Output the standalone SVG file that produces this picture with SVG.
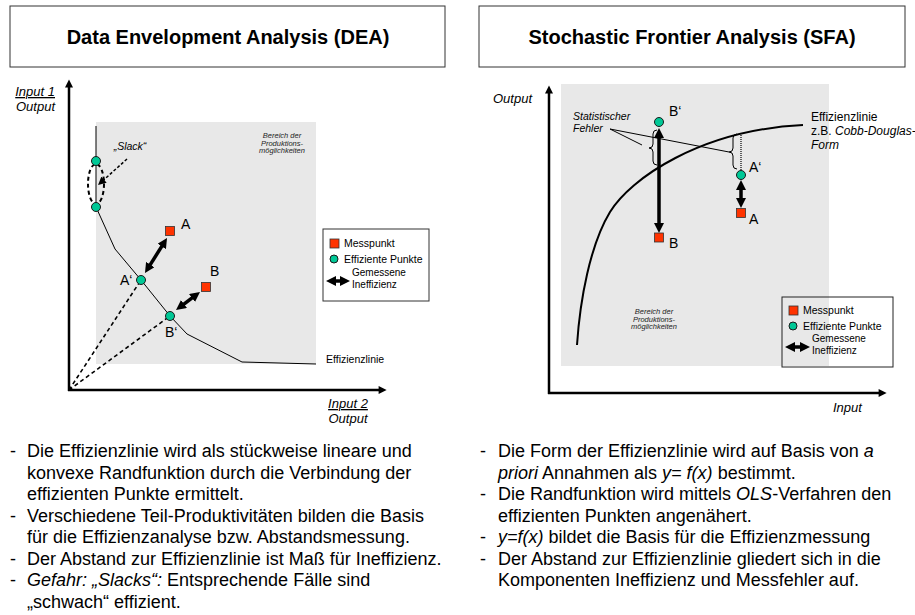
<svg xmlns="http://www.w3.org/2000/svg" width="915" height="615" viewBox="0 0 915 615">
<style>
  text { font-family: "Liberation Sans", Arial, sans-serif; fill: #000; }
  .title { font-size: 20px; font-weight: bold; text-anchor: middle; }
  .tbox { fill: #fff; stroke: #333; stroke-width: 1; }
  .area { fill: #e8e8e8; }
  .axis { stroke: #000; stroke-width: 2.5; fill: none; }
  .ax-lbl { font-size: 13px; font-style: italic; }
  .ul { text-decoration: underline; }
  .small-it { font-size: 7.5px; font-style: italic; text-anchor: middle; fill: #222; }
  .lbl { font-size: 14px; }
  .leg { font-size: 10.5px; }
  .leg2 { font-size: 10px; }
  .note { font-size: 10.5px; }
  .note-it { font-size: 10.5px; font-style: italic; }
  .note12 { font-size: 12px; }
  .pt-m { fill: #ff3300; stroke: #333; stroke-width: 0.8; }
  .pt-e { fill: #00c896; stroke: #1a1a1a; stroke-width: 1; }
  .frontier { stroke: #000; stroke-width: 1; fill: none; }
  .curve { stroke: #000; stroke-width: 2; fill: none; }
  .ray { stroke: #000; stroke-width: 1.6; stroke-dasharray: 4 3; fill: none; }
  .dbl { stroke: #000; stroke-width: 3.5; fill: none; marker-start: url(#head); marker-end: url(#head); }
  .thin { stroke: #000; stroke-width: 1; fill: none; }
  .body { font-size: 18px; }
  .it { font-style: italic; }
</style>
<defs>
  <marker id="head" viewBox="0 0 10 10" refX="3" refY="5" markerWidth="10" markerHeight="10" markerUnits="userSpaceOnUse" orient="auto-start-reverse">
    <path d="M0,0 L10,5 L0,10 z" fill="#000"/>
  </marker>
  <marker id="axh" viewBox="0 0 10 10" refX="3" refY="5" markerWidth="9" markerHeight="8" markerUnits="userSpaceOnUse" orient="auto">
    <path d="M0,0 L10,5 L0,10 z" fill="#000"/>
  </marker>
  <marker id="sh" viewBox="0 0 10 10" refX="2.5" refY="5" markerWidth="8" markerHeight="8" markerUnits="userSpaceOnUse" orient="auto">
    <path d="M0,0 L10,5 L0,10 z" fill="#000"/>
  </marker>
</defs>

<!-- Titles -->
<g id="title-dea">
  <rect class="tbox" x="10" y="6" width="435" height="61"/>
  <text class="title" x="228" y="44">Data Envelopment Analysis (DEA)</text>
</g>
<g id="title-sfa">
  <rect class="tbox" x="479" y="6" width="426" height="61"/>
  <text class="title" x="692" y="44">Stochastic Frontier Analysis (SFA)</text>
</g>

<!-- ================= DEA chart ================= -->
<rect class="area" x="96" y="122" width="220" height="242"/>
<g id="dea-axes">
  <line class="axis" x1="69" y1="391" x2="69" y2="85" marker-end="url(#axh)"/>
  <line class="axis" x1="68" y1="390" x2="381" y2="390" marker-end="url(#axh)"/>
  <text class="ax-lbl ul" x="55" y="96" text-anchor="end">Input 1</text>
  <text class="ax-lbl" x="55" y="111" text-anchor="end">Output</text>
  <text class="ax-lbl ul" x="348" y="408" text-anchor="middle">Input 2</text>
  <text class="ax-lbl" x="348" y="423" text-anchor="middle">Output</text>
</g>
<g id="dea-area-label">
  <text class="small-it" x="282" y="138">Bereich der</text>
  <text class="small-it" x="282" y="145.5">Produktions-</text>
  <text class="small-it" x="282" y="153">möglichkeiten</text>
</g>
<g id="dea-frontier">
  <path class="frontier" d="M96,126 L96,207 L115,249 L141,280 L170,316 L187,334 L242,362 L316,364"/>
  <text class="note" x="326" y="363">Effizienzlinie</text>
</g>
<g id="dea-connectors">
  <line class="ray" x1="69" y1="390" x2="141" y2="280"/>
  <line class="ray" x1="69" y1="390" x2="170" y2="316"/>
  <ellipse cx="96" cy="184" rx="8" ry="20" fill="none" stroke="#000" stroke-width="2" stroke-dasharray="4 3"/>
  <line x1="127" y1="159" x2="102.5" y2="181" stroke="#000" stroke-width="1.5" stroke-dasharray="3 2" marker-end="url(#sh)"/>
  <line class="dbl" x1="148.7" y1="267.1" x2="163.3" y2="243.9"/>
  <line class="dbl" x1="181.6" y1="305.8" x2="194.4" y2="296.2"/>
</g>
<g id="dea-slack">
  <text class="note-it" x="130" y="150" text-anchor="middle">„Slack“</text>
</g>
<g id="dea-eff-1"><circle class="pt-e" cx="96" cy="161" r="4.5"/></g>
<g id="dea-eff-2"><circle class="pt-e" cx="96" cy="207" r="4.5"/></g>
<g id="dea-A">
  <rect class="pt-m" x="165.5" y="226.5" width="9" height="9"/>
  <text class="lbl" x="181" y="229">A</text>
</g>
<g id="dea-A-prime">
  <circle class="pt-e" cx="141" cy="280" r="4.5"/>
  <text class="lbl" x="120" y="285">A‘</text>
</g>
<g id="dea-B">
  <rect class="pt-m" x="201.5" y="282.5" width="9" height="9"/>
  <text class="lbl" x="210" y="276">B</text>
</g>
<g id="dea-B-prime">
  <circle class="pt-e" cx="170" cy="316" r="4.5"/>
  <text class="lbl" x="165" y="337">B‘</text>
</g>
<g id="dea-legend">
  <rect x="323" y="229" width="106" height="72" fill="#fff" stroke="#333" stroke-width="1"/>
  <rect class="pt-m" x="330" y="239" width="9" height="9"/>
  <text class="leg" x="344" y="247">Messpunkt</text>
  <circle class="pt-e" cx="334" cy="259" r="4"/>
  <text class="leg" x="344" y="263">Effiziente Punkte</text>
  <line class="dbl" x1="333" y1="281" x2="343" y2="281"/>
  <text class="leg2" x="352" y="276">Gemessene</text>
  <text class="leg2" x="352" y="287.5">Ineffizienz</text>
</g>

<!-- ================= SFA chart ================= -->
<rect class="area" x="561" y="84" width="268" height="282"/>
<g id="sfa-axes">
  <line class="axis" x1="549" y1="394" x2="549" y2="91" marker-end="url(#axh)"/>
  <line class="axis" x1="548" y1="393" x2="881" y2="393" marker-end="url(#axh)"/>
  <text class="ax-lbl" x="493" y="103">Output</text>
  <text class="ax-lbl" x="833" y="412">Input</text>
</g>
<g id="sfa-area-label">
  <text class="small-it" x="654" y="314">Bereich der</text>
  <text class="small-it" x="654" y="321.5">Produktions-</text>
  <text class="small-it" x="654" y="329">möglichkeiten</text>
</g>
<g id="sfa-frontier">
  <path class="curve" d="M577,345 C580,300 590,245 610,212 C630,179 700,130 803,125"/>
  <text class="note12" x="811" y="121">Effizienzlinie</text>
  <text class="note12" x="811" y="135">z.B. <tspan class="it">Cobb-Douglas-</tspan></text>
  <text class="note12 it" x="811" y="149">Form</text>
</g>
<g id="sfa-connectors">
  <path class="thin" d="M657,130 Q653,130 653,134 L653,144 Q653,148 649,148 Q653,148 653,152 L653,161 Q653,165 657,165"/>
  <path class="thin" d="M737,134 Q733,134 733,138 L733,148 Q733,152 729,152 Q733,152 733,156 L733,165 Q733,169 737,169"/>
  <line x1="741" y1="133" x2="741" y2="170" stroke="#000" stroke-width="1.2" stroke-dasharray="1 1"/>
  <line class="thin" x1="610" y1="129" x2="642" y2="145"/>
  <line class="thin" x1="610" y1="129" x2="729" y2="152"/>
  <line class="dbl" x1="659" y1="135" x2="659" y2="226"/>
  <line class="dbl" x1="741" y1="187" x2="741" y2="201"/>
</g>
<g id="sfa-error-label">
  <text class="note-it" x="573" y="120">Statistischer</text>
  <text class="note-it" x="573" y="131.5">Fehler</text>
</g>
<g id="sfa-B-prime">
  <circle class="pt-e" cx="659" cy="122" r="4.5"/>
  <text class="lbl" x="669" y="116">B‘</text>
</g>
<g id="sfa-B">
  <rect class="pt-m" x="654.5" y="233" width="9" height="9"/>
  <text class="lbl" x="669" y="248">B</text>
</g>
<g id="sfa-A-prime">
  <circle class="pt-e" cx="741" cy="175" r="4.5"/>
  <text class="lbl" x="749" y="172">A‘</text>
</g>
<g id="sfa-A">
  <rect class="pt-m" x="736.5" y="208.5" width="9" height="9"/>
  <text class="lbl" x="749" y="224">A</text>
</g>
<g id="sfa-legend">
  <rect x="782" y="297" width="111" height="70" fill="none" stroke="#222" stroke-width="1"/>
  <rect class="pt-m" x="789" y="306" width="9" height="9"/>
  <text class="leg" x="803" y="314">Messpunkt</text>
  <circle class="pt-e" cx="793" cy="326" r="4"/>
  <text class="leg" x="803" y="330">Effiziente Punkte</text>
  <line class="dbl" x1="792" y1="347" x2="803" y2="347"/>
  <text class="leg2" x="812" y="342">Gemessene</text>
  <text class="leg2" x="812" y="353.5">Ineffizienz</text>
</g>

<!-- ================= Bullet texts ================= -->
<g id="dea-notes">
  <text class="body" x="10" y="457">-</text>
  <text class="body" x="27" y="457">Die Effizienzlinie wird als stückweise lineare und</text>
  <text class="body" x="27" y="478.5">konvexe Randfunktion durch die Verbindung der</text>
  <text class="body" x="27" y="500">effizienten Punkte ermittelt.</text>
  <text class="body" x="10" y="521.5">-</text>
  <text class="body" x="27" y="521.5">Verschiedene Teil-Produktivitäten bilden die Basis</text>
  <text class="body" x="27" y="543">für die Effizienzanalyse bzw. Abstandsmessung.</text>
  <text class="body" x="10" y="564.5">-</text>
  <text class="body" x="27" y="564.5">Der Abstand zur Effizienzlinie ist Maß für Ineffizienz.</text>
  <text class="body" x="10" y="586">-</text>
  <text class="body" x="27" y="586"><tspan class="it">Gefahr: „Slacks“:</tspan> Entsprechende Fälle sind</text>
  <text class="body" x="27" y="607.5">„schwach“ effizient.</text>
</g>
<g id="sfa-notes">
  <text class="body" x="480" y="457">-</text>
  <text class="body" x="498" y="457">Die Form der Effizienzlinie wird auf Basis von <tspan class="it">a</tspan></text>
  <text class="body" x="498" y="478.5"><tspan class="it">priori</tspan>  Annahmen als <tspan class="it">y= f(x)</tspan> bestimmt.</text>
  <text class="body" x="480" y="500">-</text>
  <text class="body" x="498" y="500">Die Randfunktion wird mittels <tspan class="it">OLS</tspan>-Verfahren den</text>
  <text class="body" x="498" y="521.5">effizienten Punkten angenähert.</text>
  <text class="body" x="480" y="543">-</text>
  <text class="body" x="498" y="543"><tspan class="it">y=f(x)</tspan> bildet die Basis für die Effizienzmessung</text>
  <text class="body" x="480" y="564.5">-</text>
  <text class="body" x="498" y="564.5">Der Abstand zur Effizienzlinie gliedert sich in die</text>
  <text class="body" x="498" y="586">Komponenten Ineffizienz und Messfehler auf.</text>
</g>
</svg>
